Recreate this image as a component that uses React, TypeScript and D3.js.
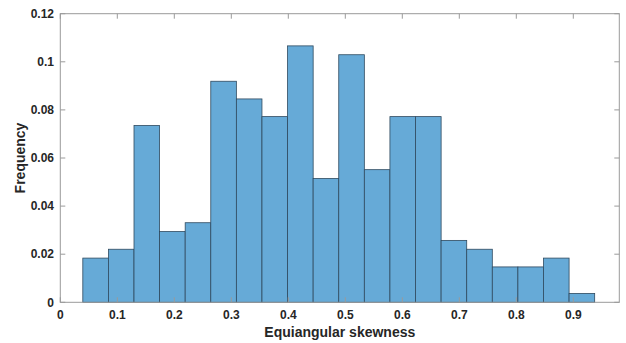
import React from "react";
import * as d3 from "d3";

const binEdges = [0.0395, 0.0844, 0.1293, 0.1742, 0.2191, 0.264, 0.3089, 0.3538, 0.3987, 0.4436, 0.4885, 0.5334, 0.5783, 0.6232, 0.6681, 0.713, 0.7579, 0.8028, 0.8477, 0.8926, 0.9375];
const frequencies = [0.01838, 0.02206, 0.07353, 0.02941, 0.03309, 0.09191, 0.08456, 0.07721, 0.10662, 0.05147, 0.10294, 0.05515, 0.07721, 0.07721, 0.02574, 0.02206, 0.01471, 0.01471, 0.01838, 0.00368];
const xTicks = [0, 0.1, 0.2, 0.3, 0.4, 0.5, 0.6, 0.7, 0.8, 0.9];
const yTicks = [0, 0.02, 0.04, 0.06, 0.08, 0.1, 0.12];
const xLabel = "Equiangular skewness";
const yLabel = "Frequency";

const W = 626, H = 343;
const L = 60.3, R = 619.3, T = 13.7, B = 302.3;

export default function App() {
  const x = d3.scaleLinear().domain([0, 0.9807]).range([L, R]);
  const y = d3.scaleLinear().domain([0, 0.12]).range([B, T]);
  const axisColor = "#9a9a9a";
  const textColor = "#262626";
  const tl = 5;
  const fmt = (v: number) => (v === 0 ? "0" : String(+v.toFixed(2)));
  return (
    <svg width={W} height={H} style={{ position: "absolute", left: 0, top: 0 }} fontFamily="'Liberation Sans', Arial, sans-serif">
      <rect x={0} y={0} width={W} height={H} fill="#fff" />
      {frequencies.map((f, i) => (
        <rect key={i} x={x(binEdges[i])} y={y(f)} width={x(binEdges[i + 1]) - x(binEdges[i])} height={y(0) - y(f)}
          fill="#66aad7" stroke="#2f4a5f" strokeWidth={0.8} />
      ))}
      <rect x={L} y={T} width={R - L} height={B - T} fill="none" stroke={axisColor} strokeWidth={1} />
      {xTicks.map((t) => (
        <g key={"x" + t}>
          <line x1={x(t)} x2={x(t)} y1={B} y2={B - tl} stroke={axisColor} />
          <line x1={x(t)} x2={x(t)} y1={T} y2={T + tl} stroke={axisColor} />
          <text x={x(t)} y={319} textAnchor="middle" fontSize={12} fontWeight="bold" fill={textColor}>{fmt(t)}</text>
        </g>
      ))}
      {yTicks.map((t) => (
        <g key={"y" + t}>
          <line x1={L} x2={L + tl} y1={y(t)} y2={y(t)} stroke={axisColor} />
          <line x1={R} x2={R - tl} y1={y(t)} y2={y(t)} stroke={axisColor} />
          <text x={54} y={y(t)} dy="0.35em" textAnchor="end" fontSize={12} fontWeight="bold" fill={textColor}>{fmt(t)}</text>
        </g>
      ))}
      <text x={(L + R) / 2} y={336.5} textAnchor="middle" fontSize={14} fontWeight="bold" fill={textColor}>{xLabel}</text>
      <text transform={`translate(25,${(T + B) / 2}) rotate(-90)`} textAnchor="middle" fontSize={14} fontWeight="bold" fill={textColor}>{yLabel}</text>
    </svg>
  );
}
